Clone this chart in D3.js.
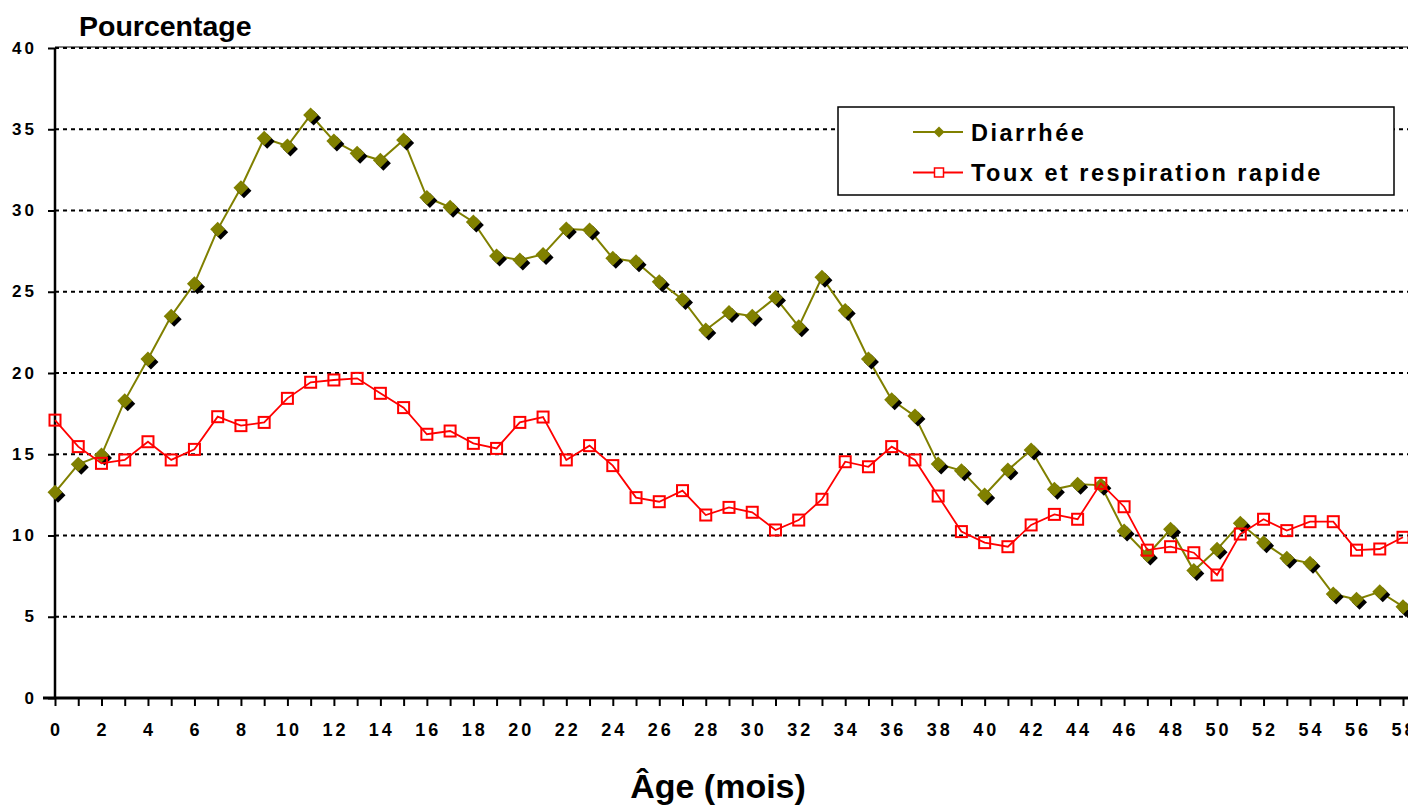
<!DOCTYPE html>
<html>
<head>
<meta charset="utf-8">
<script src="https://cdn.jsdelivr.net/npm/d3@7"></script>
<style>
  html, body { margin: 0; padding: 0; background: #fff; overflow: hidden; }
  svg { display: block; font-family: "Liberation Sans", Arial, sans-serif; }
</style>
</head>
<body>
<div id="chart"></div>
<script>
(function () {

// Data
const ages = d3.range(0, 59);
const diarrhee = [
    12.66, 14.38, 14.95, 18.3, 20.86, 23.5, 25.5, 28.84, 31.4, 34.44,
    33.97, 35.88, 34.28, 33.52, 33.09, 34.34, 30.8, 30.2, 29.3, 27.2,
    26.95, 27.3, 28.86, 28.8, 27.06, 26.85, 25.62, 24.53, 22.65, 23.73,
    23.5, 24.64, 22.85, 25.89, 23.84, 20.86, 18.35, 17.35, 14.4, 13.99,
    12.49, 14.03, 15.26, 12.84, 13.15, 13.1, 10.28, 8.8, 10.38, 7.84,
    9.15, 10.75, 9.56, 8.6, 8.29, 6.4, 6.07, 6.54, 5.62
];
const toux = [
    17.1, 15.47, 14.44, 14.65, 15.77, 14.65, 15.3, 17.31, 16.76, 16.96,
    18.44, 19.43, 19.57, 19.67, 18.75, 17.87, 16.23, 16.43, 15.67, 15.36,
    16.96, 17.29, 14.65, 15.53, 14.3, 12.33, 12.08, 12.76, 11.26, 11.73,
    11.43, 10.34, 10.95, 12.23, 14.54, 14.23, 15.47, 14.65, 12.43, 10.24,
    9.56, 9.31, 10.65, 11.3, 11.0, 13.21, 11.77, 9.1, 9.31, 8.94,
    7.57, 10.09, 11.0, 10.3, 10.85, 10.85, 9.1, 9.17, 9.89
];
const yTicks = [0, 5, 10, 15, 20, 25, 30, 35, 40];
const xLabelTicks = d3.range(0, 59, 2);
const seriesNames = ["Diarrhée", "Toux et respiration rapide"];

// Dimensions
const width = 1408, height = 806;
const left = 55, right = 1403, top = 48, bottom = 698;

const svg = d3.select("#chart").append("svg")
    .attr("width", width)
    .attr("height", height);

// Scales
const x = d3.scaleLinear().domain([0, 58]).range([left, right]);
const y = d3.scaleLinear().domain([0, 40]).range([bottom, top]);

// Top border of plot area
svg.append("line")
    .attr("x1", left).attr("x2", width)
    .attr("y1", top - 1).attr("y2", top - 1)
    .attr("stroke", "#000").attr("stroke-width", 1);

// Gridlines
svg.append("g")
    .selectAll("line")
    .data(yTicks.filter(d => d > 0))
    .enter()
    .append("line")
    .attr("x1", left).attr("x2", width)
    .attr("y1", d => y(d)).attr("y2", d => y(d))
    .attr("stroke", "#000")
    .attr("stroke-width", 2)
    .attr("stroke-dasharray", "4,4");

// Y axis
const yAxis = svg.append("g")
    .attr("transform", `translate(${left},0)`)
    .call(d3.axisLeft(y).tickValues(yTicks).tickSize(7).tickPadding(0));
yAxis.select(".domain").attr("stroke-width", 2.5).attr("d", `M0,${bottom}V${top}`);
yAxis.selectAll(".tick line").attr("stroke-width", 2);
yAxis.selectAll("text")
    .attr("x", -18)
    .attr("dy", "0.3em")
    .style("font-size", "17px")
    .style("font-weight", "bold")
    .style("letter-spacing", "3px")
    .style("font-family", "'Liberation Sans', Arial, sans-serif");

// X axis
const xAxis = svg.append("g")
    .attr("transform", `translate(0,${bottom})`)
    .call(d3.axisBottom(x).tickValues(ages).tickSize(8).tickFormat(""));
xAxis.select(".domain").attr("stroke-width", 3).attr("d", `M${left - 12},0H${width}`);
xAxis.selectAll(".tick line").attr("stroke-width", 2);

svg.append("g")
    .selectAll("text")
    .data(xLabelTicks)
    .enter()
    .append("text")
    .attr("x", d => x(d) + 1.5)
    .attr("y", 736)
    .attr("text-anchor", "middle")
    .style("font-size", "18px")
    .style("font-weight", "bold")
    .style("letter-spacing", "3px")
    .text(d => d);

// Titles
svg.append("text")
    .attr("x", 79)
    .attr("y", 36)
    .style("font-size", "28.5px")
    .style("font-weight", "bold")
    .text("Pourcentage");

svg.append("text")
    .attr("x", 718)
    .attr("y", 798)
    .attr("text-anchor", "middle")
    .style("font-size", "34px")
    .style("font-weight", "bold")
    .text("Âge (mois)");

// Lines
const line = d3.line()
    .x((d, i) => x(ages[i]))
    .y(d => y(d));

svg.append("path")
    .datum(diarrhee)
    .attr("fill", "none")
    .attr("stroke", "#808000")
    .attr("stroke-width", 2)
    .attr("d", line);

const diamond = s => `M0,${-s}L${s},0L0,${s}L${-s},0Z`;

// Diamond markers with black shadow
svg.append("g")
    .selectAll("path")
    .data(diarrhee)
    .enter()
    .append("path")
    .attr("d", diamond(7.5))
    .attr("transform", (d, i) => `translate(${x(ages[i]) + 3},${y(d) + 3})`)
    .attr("fill", "#000");

svg.append("g")
    .selectAll("path")
    .data(diarrhee)
    .enter()
    .append("path")
    .attr("d", diamond(7.5))
    .attr("transform", (d, i) => `translate(${x(ages[i])},${y(d)})`)
    .attr("fill", "#808000");

svg.append("path")
    .datum(toux)
    .attr("fill", "none")
    .attr("stroke", "#ff0000")
    .attr("stroke-width", 1.8)
    .attr("d", line);

svg.append("g")
    .selectAll("rect")
    .data(toux)
    .enter()
    .append("rect")
    .attr("x", (d, i) => x(ages[i]) - 5.5)
    .attr("y", d => y(d) - 5.5)
    .attr("width", 11)
    .attr("height", 11)
    .attr("fill", "none")
    .attr("stroke", "#ff0000")
    .attr("stroke-width", 2);

// Legend
const legend = svg.append("g");
legend.append("rect")
    .attr("x", 838).attr("y", 107)
    .attr("width", 556).attr("height", 88)
    .attr("fill", "#fff")
    .attr("stroke", "#000")
    .attr("stroke-width", 1.5);

const legendY = [132, 172.5];
const legendColors = ["#808000", "#ff0000"];

legendY.forEach((ly, i) => {
    legend.append("line")
        .attr("x1", 913).attr("x2", 963)
        .attr("y1", ly).attr("y2", ly)
        .attr("stroke", legendColors[i])
        .attr("stroke-width", 2);
    legend.append("text")
        .attr("x", 971)
        .attr("y", ly + 8.5)
        .style("font-size", "23.5px")
        .style("font-weight", "bold")
        .style("letter-spacing", "2.5px")
        .text(seriesNames[i]);
});

legend.append("path")
    .attr("d", diamond(5.5))
    .attr("transform", `translate(939,${legendY[0]})`)
    .attr("fill", "#808000");

legend.append("rect")
    .attr("x", 934.5).attr("y", legendY[1] - 4.5)
    .attr("width", 9).attr("height", 9)
    .attr("fill", "#fff")
    .attr("stroke", "#ff0000")
    .attr("stroke-width", 1.5);

})();
</script>
</body>
</html>
